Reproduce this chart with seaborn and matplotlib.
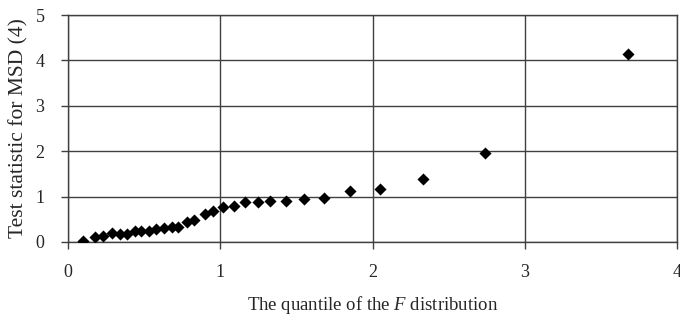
import matplotlib
matplotlib.use("Agg")
import matplotlib.pyplot as plt
import seaborn as sns
import pandas as pd

# ── Data ────────────────────────────────────────────────
f_quantile = [0.10, 0.18, 0.23, 0.29, 0.34, 0.385, 0.44, 0.48, 0.53, 0.58,
              0.63, 0.68, 0.72, 0.78, 0.83, 0.90, 0.95, 1.02, 1.09, 1.16,
              1.25, 1.33, 1.43, 1.55, 1.68, 1.85, 2.05, 2.33, 2.74, 3.68]
test_stat  = [0.03, 0.10, 0.13, 0.19, 0.18, 0.18, 0.25, 0.25, 0.25, 0.28,
              0.30, 0.32, 0.34, 0.43, 0.48, 0.62, 0.69, 0.76, 0.80, 0.87,
              0.87, 0.91, 0.91, 0.95, 0.98, 1.13, 1.16, 1.38, 1.96, 4.14]
x_ticks = [0, 1, 2, 3, 4]
y_ticks = [0, 1, 2, 3, 4, 5]
# ────────────────────────────────────────────────────────

sns.set_style("white")
plt.rcParams["font.family"] = ["Liberation Serif", "DejaVu Serif"]
plt.rcParams["mathtext.fontset"] = "custom"
plt.rcParams["mathtext.it"] = "Liberation Serif:italic"
plt.rcParams["mathtext.rm"] = "Liberation Serif"

df = pd.DataFrame({"q": f_quantile, "t": test_stat})

fig = plt.figure(figsize=(6.8, 3.27), dpi=100)
ax = fig.add_axes([0.1, 0.26, 0.8956, 0.694])

sns.scatterplot(data=df, x="q", y="t", marker="D", s=38, color="black",
                edgecolor="black", linewidth=0, ax=ax, zorder=3)

ax.set_xlim(0, 4)
ax.set_ylim(0, 5)
ax.set_xticks(x_ticks)
ax.set_yticks(y_ticks)
ax.grid(True, color="#404040", lw=1.0)
for sp in ax.spines.values():
    sp.set_color("#404040")
    sp.set_linewidth(1.0)

ax.tick_params(axis="x", direction="out", length=5, width=1, color="#404040",
               pad=11, labelsize=13)
ax.tick_params(axis="y", direction="out", length=5, width=1, color="#404040",
               pad=12, labelsize=13)
ax.tick_params(left=True, bottom=True)

ax.set_xlabel(r"The quantile of the $\mathit{F}$ distribution", fontsize=13.5,
              labelpad=9)
ax.set_ylabel("Test statistic for MSD (4)", fontsize=15.5, labelpad=5)

plt.savefig("out.png", dpi=100)
plt.close()
